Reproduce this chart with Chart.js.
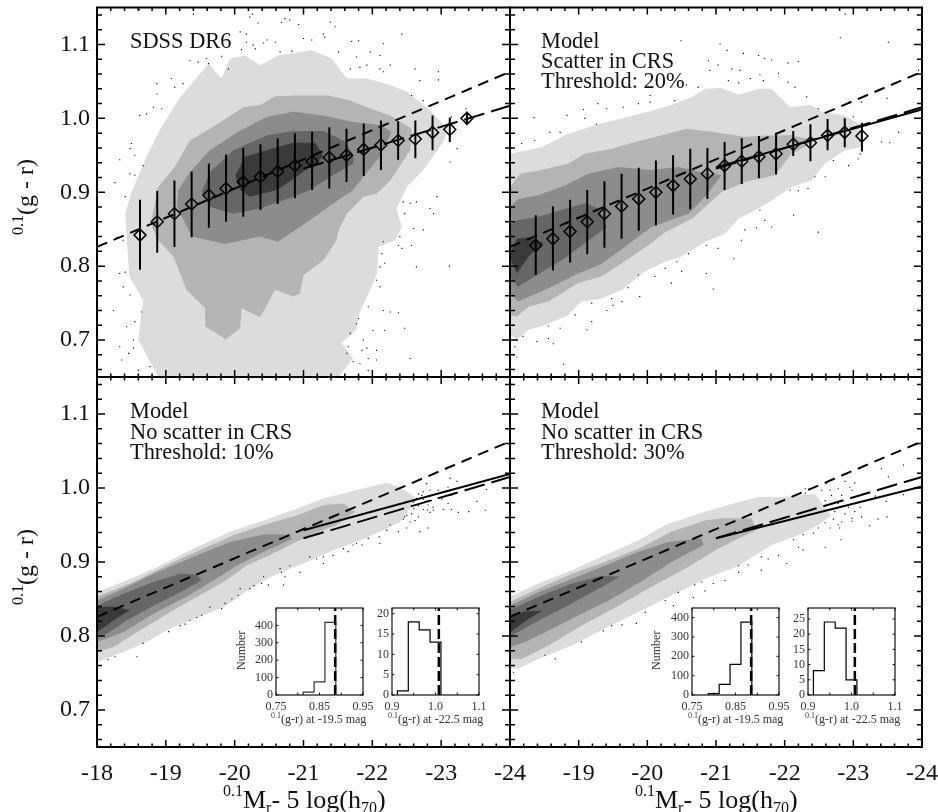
<!DOCTYPE html>
<html>
<head>
<meta charset="utf-8">
<title>Colour-magnitude relation</title>
<script src="https://cdn.jsdelivr.net/npm/chart.js@4/dist/chart.umd.min.js"></script>
<style>
	html, body { margin: 0; padding: 0; background: #fff; }
	#wrap { position: relative; width: 938px; height: 812px; overflow: hidden; }
	canvas { position: absolute; left: 0; top: 0; }
</style>
</head>
<body>
<div id="wrap"></div>
<script>
// axis ticks
const magMajor = [-18, -19, -20, -21, -22, -23, -24];
const colMajor = [0.7, 0.8, 0.9, 1.0, 1.1];

// SDSS DR6 panel: contours [mag, colour], light to dark
const dr6Outer = [[-18.89,.650],[-18.60,.700],[-18.67,.754],[-18.47,.786],[-18.41,.871],[-18.50,.900],[-18.72,.948],[-18.92,.986],[-19.21,1.029],[-19.62,1.074],[-19.81,1.054],[-19.93,1.081],[-20.15,1.085],[-20.37,1.072],[-20.63,1.085],[-21.12,1.092],[-21.41,1.081],[-21.63,1.054],[-21.92,1.054],[-22.26,1.045],[-22.50,1.036],[-22.79,1.015],[-23.10,.986],[-23.03,.968],[-22.74,.930],[-22.50,.907],[-22.35,.878],[-22.43,.853],[-22.33,.835],[-22.09,.826],[-22.07,.790],[-21.97,.768],[-21.80,.734],[-21.77,.714],[-21.55,.696],[-21.72,.675],[-21.51,.650]];
const dr6Second = [[-18.78,.858],[-18.89,.907],[-19.13,.934],[-19.35,.970],[-19.64,.986],[-20.13,1.015],[-20.37,1.018],[-20.59,1.030],[-20.90,1.031],[-21.36,1.031],[-21.68,1.024],[-21.92,1.015],[-22.26,1.004],[-22.57,.986],[-22.55,.957],[-22.26,.916],[-22.06,.898],[-21.87,.894],[-21.63,.871],[-21.51,.849],[-21.48,.835],[-21.29,.808],[-21.00,.788],[-20.95,.763],[-20.85,.759],[-20.59,.768],[-20.37,.731],[-20.10,.743],[-20.08,.716],[-19.87,.701],[-19.58,.718],[-19.57,.743],[-19.30,.768],[-19.11,.813],[-18.87,.837]];
const dr6Third = [[-19.17,.889],[-19.18,.903],[-19.35,.927],[-19.64,.957],[-20.05,.982],[-20.47,1.002],[-20.85,1.009],[-21.29,1.004],[-21.72,.995],[-22.11,.991],[-22.28,.982],[-22.11,.948],[-21.87,.921],[-21.72,.903],[-21.36,.880],[-21.09,.862],[-20.63,.833],[-20.37,.840],[-19.86,.830],[-19.38,.840],[-19.16,.880]];
const dr6Fourth = [[-19.52,.900],[-19.64,.927],[-19.98,.957],[-20.47,.977],[-20.85,.983],[-21.29,.983],[-21.58,.970],[-21.72,.952],[-21.73,.939],[-21.39,.921],[-21.09,.903],[-20.85,.894],[-20.37,.878],[-19.98,.871],[-19.64,.880]];
const dr6Fifth = [[-20.01,.923],[-20.15,.948],[-20.61,.961],[-20.85,.967],[-21.17,.967],[-21.29,.948],[-20.90,.921],[-20.61,.903],[-20.22,.894],[-20.08,.903]];
const dr6Dots = [[-18.62,1.147],[-20.26,1.141],[-20.22,1.137],[-19.40,1.141],[-20.73,1.135],[-20.80,1.133],[-20.68,1.130],[-20.93,1.127],[-21.39,1.130],[-21.46,1.124],[-20.34,1.129],[-20.08,1.117],[-20.17,1.114],[-20.47,1.106],[-21.00,1.108],[-21.12,1.106],[-21.29,1.114],[-21.31,1.110],[-21.70,1.104],[-21.80,1.105],[-22.16,1.101],[-22.43,1.114],[-20.27,1.099],[-20.17,1.103],[-20.42,1.102],[-20.59,1.103],[-20.10,1.093],[-20.30,1.094],[-20.66,1.090],[-20.83,1.091],[-21.51,1.090],[-21.97,1.090],[-22.11,1.085],[-22.26,1.072],[-22.11,1.067],[-22.16,1.063],[-21.92,1.072],[-21.82,1.069],[-21.68,1.067],[-21.77,1.083],[-22.96,1.063],[-22.96,1.052],[-22.69,1.051],[-22.62,1.067],[-22.57,1.031],[-22.74,1.024],[-19.35,1.078],[-19.47,1.076],[-19.59,1.081],[-19.62,1.074],[-19.81,1.084],[-19.91,1.067],[-18.87,1.047],[-19.08,1.054],[-19.13,1.042],[-19.25,1.047],[-18.87,1.033],[-18.82,1.015],[-18.94,1.013],[-18.62,1.004],[-18.72,1.006],[-18.50,.966],[-18.48,.959],[-18.55,.950],[-18.33,.944],[-18.67,.936],[-18.48,.925],[-18.55,.923],[-18.26,.913],[-18.41,.894],[-18.38,.835],[-18.29,.839],[-18.33,.790],[-18.41,.792],[-18.38,.772],[-18.48,.761],[-18.65,.738],[-18.24,.740],[-18.55,.725],[-18.43,.718],[-18.53,.700],[-18.33,.691],[-18.53,.689],[-18.46,.682],[-18.36,.673],[-18.60,.659],[-18.77,.664],[-22.45,.887],[-22.55,.885],[-22.64,.887],[-22.94,.894],[-22.84,.878],[-22.89,.871],[-22.47,.871],[-22.60,.851],[-22.74,.849],[-22.40,.840],[-22.38,.828],[-22.43,.824],[-22.57,.828],[-22.16,.833],[-22.14,.817],[-22.18,.804],[-22.11,.799],[-22.64,.799],[-23.12,.800],[-22.11,.772],[-22.06,.781],[-21.94,.745],[-22.16,.740],[-22.26,.738],[-22.38,.737],[-21.80,.729],[-21.77,.722],[-22.01,.713],[-22.47,.716],[-22.18,.713],[-21.68,.709],[-21.87,.700],[-21.65,.691],[-21.92,.689],[-21.85,.686],[-22.06,.686],[-21.63,.682],[-21.94,.675],[-22.06,.673],[-21.72,.671],[-22.55,.675],[-21.82,.668],[-21.94,.659],[-23.23,.959],[-23.13,.941],[-23.15,1.002],[-23.36,1.013]];
const dr6BinMag = [-18.625,-18.875,-19.125,-19.375,-19.625,-19.875,-20.125,-20.375,-20.625,-20.875,-21.125,-21.375,-21.625,-21.875,-22.125,-22.375,-22.625,-22.875,-23.125,-23.375];
const dr6BinCol = [.842,.860,.871,.884,.896,.905,.914,.921,.928,.936,.942,.947,.950,.958,.964,.970,.972,.981,.985,1.000];
const dr6BinHi = [.890,.902,.916,.928,.939,.951,.960,.965,.973,.980,.982,.988,.986,.993,.997,.996,.997,1.004,1.001,1.009];
const dr6BinLo = [.795,.818,.826,.839,.852,.860,.867,.876,.884,.892,.903,.905,.914,.922,.930,.944,.946,.957,.968,.993];

// Scatter in CRS, threshold 20%
const m20Outer = [[-18.00,.952],[-18.46,.961],[-18.85,.979],[-19.24,.991],[-19.72,1.002],[-20.01,1.009],[-20.35,1.018],[-20.65,1.029],[-20.84,1.040],[-21.08,1.041],[-21.33,1.032],[-21.62,1.040],[-21.81,1.040],[-22.08,1.015],[-22.39,1.018],[-22.54,1.009],[-22.88,1.004],[-23.07,.993],[-23.15,.975],[-23.10,.961],[-22.88,.957],[-22.59,.939],[-22.39,.916],[-22.10,.907],[-21.81,.889],[-21.62,.878],[-21.33,.864],[-21.13,.844],[-20.84,.833],[-20.50,.813],[-20.26,.806],[-19.97,.793],[-19.63,.768],[-19.33,.756],[-19.04,.752],[-18.85,.734],[-18.51,.720],[-18.27,.714],[-18.10,.701],[-18.00,.707]];
const m20Second = [[-18.00,.907],[-18.15,.925],[-18.46,.930],[-18.85,.939],[-19.09,.952],[-19.48,.959],[-19.82,.968],[-20.21,.977],[-20.57,.986],[-20.94,.982],[-21.42,.975],[-21.81,.977],[-22.10,.977],[-22.44,.970],[-22.25,.959],[-22.10,.952],[-21.86,.923],[-21.42,.914],[-21.08,.900],[-20.65,.864],[-20.26,.846],[-20.01,.828],[-19.63,.804],[-19.33,.786],[-18.99,.777],[-18.56,.752],[-18.27,.745],[-18.10,.732],[-18.00,.734]];
const m20Third = [[-18.00,.880],[-18.12,.891],[-18.41,.896],[-18.80,.909],[-19.14,.925],[-19.58,.934],[-20.06,.930],[-20.45,.934],[-20.79,.927],[-21.08,.923],[-20.84,.894],[-20.60,.871],[-20.06,.853],[-19.67,.826],[-19.33,.803],[-18.95,.788],[-18.56,.770],[-18.12,.752],[-18.00,.763]];
const m20Fourth = [[-18.00,.855],[-18.10,.862],[-18.41,.867],[-18.75,.876],[-19.09,.885],[-19.29,.878],[-19.41,.853],[-19.09,.831],[-18.75,.808],[-18.39,.788],[-18.12,.772],[-18.00,.785]];
const m20Fifth = [[-18.00,.817],[-18.10,.837],[-18.29,.839],[-18.49,.831],[-18.29,.815],[-18.10,.790],[-18.03,.804]];
const m20Dots = [[-20.49,1.105],[-21.06,1.101],[-22.81,1.109],[-23.51,1.103],[-21.16,1.092],[-21.40,1.088],[-21.62,1.085],[-21.71,1.081],[-21.81,1.079],[-22.05,1.075],[-22.20,1.077],[-20.89,1.078],[-21.03,1.072],[-21.23,1.067],[-21.35,1.065],[-20.91,1.065],[-21.91,1.061],[-21.64,1.059],[-21.18,1.051],[-21.33,1.048],[-21.50,1.054],[-21.69,1.051],[-22.05,1.049],[-20.74,1.042],[-20.57,1.045],[-20.04,1.031],[-20.04,1.022],[-19.87,1.020],[-20.40,1.024],[-19.28,1.020],[-19.41,1.013],[-19.07,1.012],[-19.09,1.000],[-19.65,1.015],[-18.83,1.004],[-18.35,1.001],[-19.26,.992],[-18.73,.981],[-18.58,.981],[-18.36,.970],[-18.17,.966],[-22.15,1.042],[-22.32,1.029],[-22.49,1.013],[-23.00,1.002],[-23.12,1.022],[-23.49,1.027],[-23.95,1.065],[-22.88,1.141],[-23.41,.968],[-23.53,.967],[-23.66,.981],[-23.10,.952],[-23.07,.945],[-22.71,.943],[-22.93,.936],[-22.59,.921],[-22.44,.921],[-22.08,.903],[-22.20,.902],[-22.34,.905],[-22.13,.869],[-21.64,.876],[-21.71,.862],[-21.59,.852],[-21.81,.853],[-22.49,.846],[-21.42,.849],[-21.37,.835],[-20.86,.828],[-21.03,.824],[-21.26,.810],[-20.60,.817],[-20.43,.806],[-20.26,.797],[-20.50,.793],[-20.86,.790],[-20.11,.786],[-20.35,.777],[-19.87,.788],[-20.96,.769],[-19.72,.771],[-19.89,.759],[-19.48,.756],[-19.63,.752],[-19.19,.750],[-19.50,.747],[-19.41,.740],[-18.95,.734],[-19.19,.725],[-19.12,.714],[-18.73,.716],[-18.56,.719],[-18.63,.695],[-18.56,.702],[-18.39,.698],[-18.19,.705],[-18.07,.691],[-18.10,.677],[-18.78,.667]];
const m20BinMag = [-18.375,-18.625,-18.875,-19.125,-19.375,-19.625,-19.875,-20.125,-20.375,-20.625,-20.875,-21.125,-21.375,-21.625,-21.875,-22.125,-22.375,-22.625,-22.875,-23.125];
const m20BinCol = [.828,.837,.847,.860,.871,.881,.891,.900,.909,.918,.925,.936,.942,.948,.952,.965,.967,.977,.981,.976];
const m20BinHi = [.869,.881,.890,.903,.915,.925,.933,.943,.950,.959,.960,.968,.973,.976,.979,.983,.992,.999,1.000,.994];
const m20BinLo = [.788,.794,.805,.816,.825,.837,.848,.855,.870,.877,.891,.903,.911,.919,.924,.949,.942,.957,.961,.955];

// No scatter, threshold 10%
const n10Outer = [[-18.00,.859],[-18.48,.877],[-18.87,.893],[-19.35,.916],[-19.93,.941],[-20.42,.956],[-20.90,.972],[-21.29,.986],[-21.77,.997],[-22.21,1.007],[-22.40,1.001],[-22.62,.988],[-22.55,.972],[-22.40,.954],[-22.11,.941],[-21.77,.927],[-21.43,.916],[-21.00,.898],[-20.61,.884],[-20.22,.864],[-19.88,.841],[-19.50,.826],[-19.06,.810],[-18.72,.792],[-18.38,.778],[-18.00,.765]];
const n10Second = [[-18.00,.853],[-18.53,.873],[-19.11,.900],[-19.54,.918],[-19.98,.936],[-20.42,.950],[-20.90,.963],[-21.29,.977],[-21.58,.979],[-21.75,.968],[-21.48,.950],[-21.09,.936],[-20.61,.914],[-20.17,.895],[-19.84,.873],[-19.45,.853],[-19.06,.832],[-18.58,.805],[-18.24,.785],[-18.00,.778]];
const n10Third = [[-18.00,.848],[-18.38,.864],[-18.87,.886],[-19.40,.907],[-19.93,.927],[-20.42,.937],[-20.80,.937],[-20.83,.931],[-20.47,.916],[-20.03,.895],[-19.69,.875],[-19.30,.853],[-18.82,.830],[-18.38,.805],[-18.00,.792]];
const n10Fourth = [[-18.00,.841],[-18.33,.855],[-18.82,.873],[-19.21,.884],[-19.45,.883],[-19.52,.875],[-19.21,.859],[-18.82,.841],[-18.43,.821],[-18.14,.803],[-18.00,.799]];
const n10Fifth = [[-18.00,.839],[-18.24,.840],[-18.48,.835],[-18.24,.821],[-18.00,.805]];
const n10Dots = [[-22.79,1.006],[-23.13,1.013],[-23.23,1.009],[-22.67,.992],[-22.74,.995],[-22.84,.997],[-22.96,.997],[-23.10,1.001],[-23.66,.998],[-23.15,.990],[-23.01,.985],[-22.64,.986],[-22.74,.985],[-22.86,.983],[-23.10,.979],[-23.52,.982],[-22.69,.979],[-22.81,.977],[-22.60,.972],[-22.74,.971],[-22.89,.970],[-23.03,.971],[-23.15,.971],[-23.64,.970],[-23.25,.967],[-23.40,.968],[-22.47,.961],[-22.67,.961],[-22.84,.967],[-22.55,.954],[-22.26,.950],[-22.50,.946],[-22.81,.946],[-22.21,.943],[-22.38,.941],[-22.69,.941],[-22.10,.934],[-22.11,.925],[-21.77,.925],[-21.94,.932],[-21.58,.918],[-21.72,.923],[-21.29,.907],[-21.43,.909],[-21.09,.907],[-21.29,.898],[-20.95,.886],[-20.80,.895],[-20.68,.886],[-20.73,.880],[-20.71,.869],[-20.42,.880],[-20.39,.871],[-20.49,.869],[-20.08,.864],[-20.05,.855],[-20.22,.864],[-19.86,.844],[-19.81,.837],[-19.64,.839],[-19.52,.828],[-19.35,.821],[-19.21,.814],[-19.04,.806],[-18.67,.790],[-18.58,.772],[-18.26,.772],[-18.16,.768],[-22.60,.981],[-22.67,.976],[-22.72,.990],[-22.79,.982],[-22.84,.989],[-22.88,.974],[-22.80,.970],[-22.57,.965],[-22.50,.963],[-22.45,.958],[-22.62,.956],[-21.19,.904],[-21.85,.923],[-21.65,.914],[-20.66,.891],[-20.28,.868],[-19.96,.850],[-19.45,.825],[-19.28,.816]];

// No scatter, threshold 30%
const n30Outer = [[-18.00,.853],[-18.41,.871],[-18.90,.889],[-19.38,.909],[-19.87,.929],[-20.26,.950],[-20.84,.968],[-21.33,.981],[-21.62,.988],[-21.96,.988],[-22.44,.992],[-22.68,.963],[-22.49,.950],[-22.20,.936],[-21.81,.923],[-21.33,.895],[-20.84,.877],[-20.45,.859],[-19.97,.837],[-19.38,.810],[-18.90,.787],[-18.41,.769],[-18.12,.756],[-18.00,.756]];
const n30Second = [[-18.00,.846],[-18.41,.864],[-18.90,.884],[-19.38,.900],[-19.87,.918],[-20.35,.941],[-20.84,.956],[-21.08,.959],[-21.52,.959],[-21.59,.943],[-21.33,.932],[-21.03,.918],[-20.55,.891],[-20.01,.864],[-19.58,.841],[-19.04,.814],[-18.56,.787],[-18.17,.769],[-18.00,.769]];
const n30Third = [[-18.00,.841],[-18.41,.859],[-18.90,.877],[-19.38,.895],[-19.87,.914],[-20.31,.927],[-20.79,.932],[-20.82,.923],[-20.35,.900],[-19.97,.877],[-19.48,.850],[-19.00,.828],[-18.51,.805],[-18.22,.792],[-18.00,.785]];
const n30Fourth = [[-18.00,.835],[-18.41,.853],[-18.90,.871],[-19.33,.881],[-19.60,.880],[-19.29,.864],[-18.90,.844],[-18.46,.823],[-18.17,.808],[-18.00,.799]];
const n30Fifth = [[-18.00,.828],[-18.22,.833],[-18.47,.834],[-18.27,.823],[-18.00,.805]];
const n30Dots = [[-23.73,1.031],[-23.41,1.026],[-23.51,1.015],[-22.88,1.009],[-23.02,1.007],[-22.61,1.006],[-22.30,.999],[-22.54,.997],[-22.66,.997],[-22.78,.999],[-22.95,1.001],[-22.30,.993],[-22.68,.990],[-22.83,.990],[-22.98,.997],[-23.32,.989],[-23.73,.991],[-22.59,.983],[-23.48,.982],[-22.78,.979],[-23.07,.981],[-22.93,.974],[-23.10,.974],[-22.73,.968],[-22.88,.965],[-23.02,.968],[-23.36,.958],[-23.49,.961],[-22.98,.959],[-23.12,.961],[-22.71,.958],[-22.83,.954],[-22.98,.955],[-22.59,.953],[-22.78,.950],[-23.24,.949],[-22.66,.946],[-22.80,.946],[-22.49,.946],[-22.42,.939],[-22.27,.937],[-22.82,.930],[-22.13,.930],[-22.20,.920],[-22.27,.916],[-22.59,.920],[-21.91,.909],[-21.66,.907],[-21.76,.904],[-22.03,.898],[-21.66,.889],[-21.33,.895],[-21.47,.896],[-21.33,.886],[-21.13,.875],[-20.96,.871],[-20.79,.873],[-20.69,.869],[-20.84,.861],[-20.45,.859],[-20.67,.852],[-20.26,.848],[-20.38,.841],[-19.97,.832],[-19.84,.817],[-19.63,.815],[-19.36,.807],[-19.48,.814],[-19.04,.792],[-18.51,.774],[-18.66,.769],[-18.05,.751]];

// fitted relations: [mag at ends], [colour at ends]
const fitShortMag = [-18, -24];
const fitShortCol = [.826, 1.063];
const fitFaintMag = [-21, -24];
const dr6LongCol = [.932, 1.017];
const m20LongCol = [.932, 1.015];
const m20SolidCol = [.934, 1.012];
const n10LongCol = [.932, 1.015];
const n10SolidCol = [.943, 1.019];
const n30LongCol = [.932, 1.015];
const n30SolidCol = [.932, 1.002];

// inset histograms
const histLeftEdges10 = [.8125, .8375, .8625, .8875];
const histLeftCounts10 = [17, 76, 417];
const histRightEdges10 = [.9125, .9375, .9625, .9875, 1.0125];
const histRightCounts10 = [1, 18, 16, 13];
const histLeftEdges30 = [.7875, .8125, .8375, .8625, .8875];
const histLeftCounts30 = [7, 55, 158, 377];
const histRightEdges30 = [.9125, .9375, .9625, .9875, 1.0125];
const histRightCounts30 = [8, 24, 22, 5];
const histLeftMark = .886;
const histRightMark = 1.0077;

const serif = "'Liberation Serif', 'Times New Roman', serif";
const greys = ["#dcdcdc", "#b4b4b4", "#8c8c8c", "#666666", "#3a3a3a"];

// draws the frame with inward ticks from the chart's own scales, and text runs
const framePlugin = {
	id: "frame",
	afterDraw(chart, args, opts) {
		const { ctx, chartArea: a, scales } = chart;
		ctx.save();
		ctx.strokeStyle = opts.color;
		ctx.lineWidth = opts.tickWidth;
		ctx.beginPath();
		scales.x.ticks.forEach((t) => {
			const px = scales.x.getPixelForValue(t.value);
			const len = isMajor(opts.xMajor, t.value) ? opts.xLen[0] : opts.xLen[1];
			ctx.moveTo(px, a.top);
			ctx.lineTo(px, a.top + len);
			ctx.moveTo(px, a.bottom);
			ctx.lineTo(px, a.bottom - len);
		});
		scales.y.ticks.forEach((t) => {
			const py = scales.y.getPixelForValue(t.value);
			const len = isMajor(opts.yMajor, t.value) ? opts.yLen[0] : opts.yLen[1];
			ctx.moveTo(a.left, py);
			ctx.lineTo(a.left + len, py);
			ctx.moveTo(a.right, py);
			ctx.lineTo(a.right - len, py);
		});
		ctx.stroke();
		ctx.lineWidth = opts.width;
		ctx.strokeRect(a.left, a.top, a.right - a.left, a.bottom - a.top);
		ctx.fillStyle = opts.textColor;
		ctx.textBaseline = "alphabetic";
		ctx.textAlign = "left";
		(opts.texts || []).forEach((t) => {
			ctx.save();
			ctx.translate(t.x, t.y);
			if (t.rot) ctx.rotate(t.rot);
			let cx = 0;
			t.runs.forEach(([str, size, dy]) => {
				ctx.font = size + "px " + serif;
				ctx.fillText(str, cx, dy || 0);
				cx += ctx.measureText(str).width;
			});
			ctx.restore();
		});
		ctx.restore();
	},
};

function isMajor(list, v) {
	return list.some((m) => Math.abs(m - v) < 1e-6);
}

function fineTicks(from, to, step) {
	const out = [];
	const n = Math.round((to - from) / step);
	for (let i = 0; i <= n; i++) out.push({ value: +(from + i * step).toFixed(4) });
	return out;
}

function toXY(pairs) {
	return pairs.map((p) => ({ x: p[0], y: p[1] }));
}

function addCanvas() {
	const c = document.createElement("canvas");
	c.width = 938;
	c.height = 812;
	c.style.width = "938px";
	c.style.height = "812px";
	document.getElementById("wrap").appendChild(c);
	return c;
}

// the scale boxes fill the whole margin, otherwise Chart.js clips their labels
function fitX(box) {
	return (s) => {
		s.height = 812 - box[3];
		s.paddingLeft = 0;
		s.paddingRight = 0;
	};
}
function fitY(box) {
	return (s) => {
		s.width = box[0];
		s.paddingTop = 0;
		s.paddingBottom = 0;
	};
}

function contour(pairs, color) {
	return { data: toXY(pairs), showLine: true, fill: "shape", backgroundColor: color, borderColor: color, borderWidth: 0, pointRadius: 0 };
}

function fitLine(xs, ys, dash) {
	return {
		data: xs.map((x, i) => ({ x, y: ys[i] })),
		showLine: true,
		fill: false,
		borderColor: "#000",
		borderWidth: 2,
		borderDash: dash,
		pointRadius: 0,
	};
}

function panel(box, cfg) {
	const sets = [];
	cfg.contours.forEach((pairs, i) => sets.push(contour(pairs, greys[i])));
	sets.push({ data: toXY(cfg.dots), pointStyle: "rect", pointRadius: 0.8, backgroundColor: "#000", borderWidth: 0 });
	sets.push(fitLine(fitShortMag, fitShortCol, [11, 7]));
	if (cfg.longCol) sets.push(fitLine(fitFaintMag, cfg.longCol, [21, 7]));
	if (cfg.solidCol) sets.push(fitLine(fitFaintMag, cfg.solidCol, []));
	if (cfg.binMag) {
		const bars = [];
		cfg.binMag.forEach((m, i) => {
			bars.push({ x: m, y: cfg.binHi[i] }, { x: m, y: cfg.binLo[i] }, { x: m, y: null });
		});
		sets.push({ data: bars, showLine: true, spanGaps: false, fill: false, borderColor: "#000", borderWidth: 2, pointRadius: 0 });
		sets.push({
			data: cfg.binMag.map((m, i) => ({ x: m, y: cfg.binCol[i] })),
			pointStyle: "rectRot",
			pointRadius: 6,
			backgroundColor: "rgba(0,0,0,0)",
			borderColor: "#000",
			borderWidth: 1.5,
		});
	}
	new Chart(addCanvas(), {
		type: "scatter",
		data: { datasets: sets.reverse() },
		options: {
			responsive: false,
			animation: false,
			layout: { padding: { left: 0, top: box[1], right: 938 - box[2], bottom: 0 } },
			plugins: {
				legend: { display: false },
				tooltip: { enabled: false },
				frame: { color: "#000", textColor: "#111", width: 2, tickWidth: 1.5, xLen: [7, 3.5], yLen: [8, 5], xMajor: magMajor, yMajor: colMajor, texts: cfg.texts },
			},
			scales: {
				x: {
					type: "linear",
					min: -24,
					max: -18,
					reverse: true,
					grid: { display: false, drawTicks: false },
					border: { display: false },
					afterBuildTicks: (s) => { s.ticks = fineTicks(-24, -18, 0.2); },
					afterFit: fitX(box),
					ticks: {
						display: cfg.xLabels.length > 0,
						autoSkip: false,
						maxRotation: 0,
						padding: 12,
						color: "#111",
						font: { family: serif, size: 24 },
						callback: (v) => (isMajor(cfg.xLabels, v) ? String(Math.round(v)) : ""),
					},
				},
				y: {
					type: "linear",
					min: 0.65,
					max: 1.15,
					grid: { display: false, drawTicks: false },
					border: { display: false },
					afterBuildTicks: (s) => { s.ticks = fineTicks(0.66, 1.14, 0.02); },
					afterFit: fitY(box),
					ticks: {
						display: cfg.yLabels,
						autoSkip: false,
						padding: 7,
						color: "#111",
						font: { family: serif, size: 24 },
						callback: (v) => (isMajor(colMajor, v) ? v.toFixed(1) : ""),
					},
				},
			},
		},
		plugins: [framePlugin],
	});
}

function inset(box, cfg) {
	const pts = cfg.edges.slice(0, -1).map((e, i) => ({ x: e, y: cfg.counts[i] }));
	const last = cfg.edges[cfg.edges.length - 1];
	const line = [{ x: cfg.edges[0], y: 0 }, ...pts, { x: last, y: cfg.counts[cfg.counts.length - 1] }, { x: last, y: 0 }];
	new Chart(addCanvas(), {
		type: "scatter",
		data: {
			datasets: [
				{ data: [{ x: cfg.mark, y: 0 }, { x: cfg.mark, y: cfg.yMax }], showLine: true, fill: false, borderColor: "#000", borderWidth: 2.5, borderDash: [10, 4], pointRadius: 0 },
				{ data: line, showLine: true, stepped: "before", fill: false, borderColor: cfg.color, borderWidth: 1.2, pointRadius: 0 },
			],
		},
		options: {
			responsive: false,
			animation: false,
			layout: { padding: { left: 0, top: box[1], right: 938 - box[2], bottom: 0 } },
			plugins: {
				legend: { display: false },
				tooltip: { enabled: false },
				frame: { color: "#111", textColor: "#333", width: 1.2, tickWidth: 1, xLen: [2.5, 2.5], yLen: [2.5, 2.5], xMajor: cfg.xTicks, yMajor: cfg.yTicks, texts: cfg.texts },
			},
			scales: {
				x: {
					type: "linear",
					min: cfg.xTicks[0],
					max: cfg.xTicks[cfg.xTicks.length - 1],
					grid: { display: false, drawTicks: false },
					border: { display: false },
					afterBuildTicks: (s) => { s.ticks = cfg.xTicks.map((value) => ({ value })); },
					afterFit: fitX(box),
					ticks: {
						autoSkip: false,
						maxRotation: 0,
						padding: 5,
						color: "#333",
						font: { family: serif, size: 12 },
						callback: (v) => (isMajor(cfg.xLabels, v) ? v.toFixed(cfg.xDigits) : ""),
					},
				},
				y: {
					type: "linear",
					min: 0,
					max: cfg.yMax,
					grid: { display: false, drawTicks: false },
					border: { display: false },
					afterBuildTicks: (s) => { s.ticks = cfg.yTicks.map((value) => ({ value })); },
					afterFit: fitY(box),
					ticks: {
						autoSkip: false,
						padding: 3,
						color: "#333",
						font: { family: serif, size: 12 },
						callback: (v) => String(v),
					},
				},
			},
		},
		plugins: [framePlugin],
	});
}

function yTitle(y) {
	return { x: 33, y, rot: -Math.PI / 2, runs: [["0.1", 16, -10], ["(g - r)", 24]] };
}
function xTitle(x) {
	return { x, y: 808, runs: [["0.1", 16, -12], ["M", 26], ["r", 16, 5], ["- 5 log(h", 26], ["70", 16, 5], [")", 26]] };
}
function note(x, y, str) {
	return { x, y, runs: [[str, 22.4]] };
}
function insetTitle(x, mag) {
	return { x, y: 723, runs: [["0.1", 8, -5], ["(g-r) at " + mag + " mag", 12]] };
}

panel([97, 7, 510, 377], {
	contours: [dr6Outer, dr6Second, dr6Third, dr6Fourth, dr6Fifth],
	dots: dr6Dots,
	longCol: dr6LongCol,
	binMag: dr6BinMag, binCol: dr6BinCol, binHi: dr6BinHi, binLo: dr6BinLo,
	xLabels: [],
	yLabels: true,
	texts: [note(130, 48, "SDSS DR6"), yTitle(235)],
});
panel([510, 7, 922, 377], {
	contours: [m20Outer, m20Second, m20Third, m20Fourth, m20Fifth],
	dots: m20Dots,
	longCol: m20LongCol,
	solidCol: m20SolidCol,
	binMag: m20BinMag, binCol: m20BinCol, binHi: m20BinHi, binLo: m20BinLo,
	xLabels: [],
	yLabels: false,
	texts: [note(541, 48, "Model"), note(541, 68, "Scatter in CRS"), note(541, 88, "Threshold: 20%")],
});
panel([97, 377, 510, 747], {
	contours: [n10Outer, n10Second, n10Third, n10Fourth, n10Fifth],
	dots: n10Dots,
	longCol: n10LongCol,
	solidCol: n10SolidCol,
	xLabels: magMajor,
	yLabels: true,
	texts: [note(130, 418, "Model"), note(130, 439, "No scatter in CRS"), note(130, 459, "Threshold: 10%"), yTitle(605), xTitle(223)],
});
panel([510, 377, 922, 747], {
	contours: [n30Outer, n30Second, n30Third, n30Fourth, n30Fifth],
	dots: n30Dots,
	longCol: n30LongCol,
	solidCol: n30SolidCol,
	xLabels: magMajor.slice(1),
	yLabels: false,
	texts: [note(541, 418, "Model"), note(541, 439, "No scatter in CRS"), note(541, 459, "Threshold: 30%"), xTitle(635)],
});

const leftX = [.75, .8, .85, .9, .95];
const leftXLabels = [.75, .85, .95];
const rightX = [.9, .95, 1, 1.05, 1.1];
const rightXLabels = [.9, 1, 1.1];

inset([276, 608, 363, 695], {
	edges: histLeftEdges10, counts: histLeftCounts10, mark: histLeftMark, color: "#333",
	yMax: 500, xTicks: leftX, xLabels: leftXLabels, xDigits: 2, yTicks: [0, 100, 200, 300, 400],
	texts: [insetTitle(271, "-19.5"), { x: 245, y: 670, rot: -Math.PI / 2, runs: [["Number", 12]] }],
});
inset([392, 608, 479, 695], {
	edges: histRightEdges10, counts: histRightCounts10, mark: histRightMark, color: "#000",
	yMax: 21.4, xTicks: rightX, xLabels: rightXLabels, xDigits: 1, yTicks: [0, 5, 10, 15, 20],
	texts: [insetTitle(388, "-22.5")],
});
inset([692, 608, 779, 695], {
	edges: histLeftEdges30, counts: histLeftCounts30, mark: histLeftMark, color: "#000",
	yMax: 450, xTicks: leftX, xLabels: leftXLabels, xDigits: 2, yTicks: [0, 100, 200, 300, 400],
	texts: [insetTitle(688, "-19.5"), { x: 660, y: 670, rot: -Math.PI / 2, runs: [["Number", 12]] }],
});
inset([808, 608, 895, 695], {
	edges: histRightEdges30, counts: histRightCounts30, mark: histRightMark, color: "#000",
	yMax: 28.6, xTicks: rightX, xLabels: rightXLabels, xDigits: 1, yTicks: [0, 5, 10, 15, 20, 25],
	texts: [insetTitle(805, "-22.5")],
});
</script>
</body>
</html>
